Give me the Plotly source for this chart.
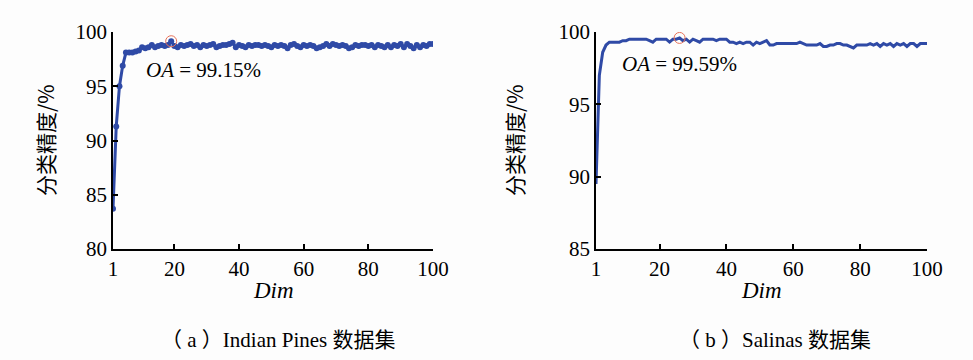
import plotly.graph_objects as go

dims = list(range(1, 101))

indian_pines_oa = [
    83.7, 91.3, 95.0, 96.9, 98.1, 98.1, 98.1, 98.2, 98.3, 98.6,
    98.5, 98.6, 98.8, 98.6, 98.7, 98.8, 98.7, 98.8, 99.15, 98.7,
    98.6, 98.8, 98.7, 98.8, 98.9, 98.7, 98.8, 98.6, 98.8, 98.7,
    98.8, 98.9, 98.6, 98.7, 98.8, 98.8, 98.9, 99.0, 98.6, 98.8,
    98.7, 98.6, 98.8, 98.7, 98.8, 98.8, 98.7, 98.8, 98.7, 98.6,
    98.8, 98.7, 98.8, 98.7, 98.5, 98.8, 98.9, 98.7, 98.6, 98.8,
    98.7, 98.8, 98.7, 98.5, 98.6, 98.7, 98.9, 98.7, 98.9, 98.8,
    98.7, 98.8, 98.7, 98.5, 98.6, 98.8, 98.7, 98.8, 98.8, 98.7,
    98.8, 98.6, 98.8, 98.7, 98.6, 98.8, 98.6, 98.8, 98.7, 98.9,
    98.6, 98.9, 98.7, 98.5, 98.8, 98.6, 98.8, 98.7, 98.9, 98.9,
]

salinas_oa = [
    89.5, 97.0, 98.6, 99.1, 99.3, 99.3, 99.3, 99.3, 99.4, 99.4,
    99.5, 99.5, 99.5, 99.5, 99.5, 99.5, 99.4, 99.3, 99.5, 99.5,
    99.5, 99.5, 99.3, 99.5, 99.5, 99.59, 99.4, 99.5, 99.3, 99.5,
    99.4, 99.3, 99.5, 99.5, 99.5, 99.5, 99.4, 99.5, 99.5, 99.5,
    99.3, 99.3, 99.2, 99.3, 99.2, 99.3, 99.3, 99.1, 99.3, 99.2,
    99.3, 99.4, 99.1, 99.1, 99.2, 99.2, 99.2, 99.2, 99.2, 99.2,
    99.2, 99.3, 99.2, 99.1, 99.1, 99.1, 99.1, 99.2, 99.0, 99.0,
    99.1, 99.1, 99.2, 99.2, 99.1, 99.1, 99.0, 98.9, 99.1, 99.1,
    99.1, 99.1, 99.2, 99.1, 99.2, 99.0, 99.2, 99.1, 99.2, 99.0,
    99.2, 99.1, 99.2, 99.0, 99.2, 99.2, 99.0, 99.2, 99.2, 99.2,
]

best_left = (19, 99.15)
best_right = (26, 99.59)

x_ticks = [1, 20, 40, 60, 80, 100]
y_ticks_left = [80, 85, 90, 95, 100]
y_ticks_right = [85, 90, 95, 100]

LINE = "#2f4aa6"
SERIF = "Liberation Serif"
CJK = "Noto Sans CJK SC"

fig = go.Figure()
fig.add_trace(go.Scatter(x=dims, y=indian_pines_oa, mode="lines+markers",
                         line=dict(color=LINE, width=3), marker=dict(color=LINE, size=6),
                         xaxis="x", yaxis="y", showlegend=False))
fig.add_trace(go.Scatter(x=[best_left[0]], y=[best_left[1]], mode="markers",
                         marker=dict(symbol="circle-open", color="#e8735a", size=11, line=dict(width=1)),
                         xaxis="x", yaxis="y", showlegend=False))
fig.add_trace(go.Scatter(x=dims, y=salinas_oa, mode="lines",
                         line=dict(color=LINE, width=3),
                         xaxis="x2", yaxis="y2", showlegend=False))
fig.add_trace(go.Scatter(x=[best_right[0]], y=[best_right[1]], mode="markers",
                         marker=dict(symbol="circle-open", color="#e8735a", size=11, line=dict(width=1)),
                         xaxis="x2", yaxis="y2", showlegend=False))

axis_common = dict(showline=True, linecolor="black", linewidth=1.5, ticks="inside",
                   ticklen=5, tickcolor="black", tickwidth=1.5, showgrid=False, zeroline=False,
                   tickfont=dict(family=SERIF, size=21, color="black"), mirror=False,
                   automargin=False)

ydom = [1 - 249/360, 1 - 32/360]
fig.update_layout(
    width=973, height=360, autosize=False,
    margin=dict(l=0, r=0, t=0, b=0, pad=0, autoexpand=False),
    paper_bgcolor="#fdfdfd", plot_bgcolor="#fdfdfd",
    xaxis=dict(domain=[113/973, 433/973], range=[1, 100], tickvals=x_ticks, anchor="y", **axis_common),
    yaxis=dict(domain=ydom, range=[80, 100], tickvals=y_ticks_left, anchor="x", **axis_common),
    xaxis2=dict(domain=[596/973, 927/973], range=[1, 100], tickvals=x_ticks, anchor="y2", **axis_common),
    yaxis2=dict(domain=ydom, range=[85, 100], tickvals=y_ticks_right, anchor="x2", **axis_common),
)

ann = []
def paper(px, py):
    return px / 973, 1 - py / 360

def add(px, py, text, font, **kw):
    x, y = paper(px, py)
    ann.append(dict(x=x, y=y, xref="paper", yref="paper", text=text, showarrow=False,
                    xanchor="center", yanchor="middle", font=font, **kw))

for cx in [273, 761]:
    add(cx, 290, "<i>Dim</i>", dict(family=SERIF, size=23, color="black"))
for cx in [45, 514]:
    add(cx, 140, "分类精度/%", dict(family=CJK, size=21, color="black"), textangle=-90)
add(203, 70, "<i>OA</i> = 99.15%", dict(family=SERIF, size=21, color="black"))
add(679, 64, "<i>OA</i> = 99.59%", dict(family=SERIF, size=21, color="black"))
add(278, 340, "（ a ）Indian Pines 数据集", dict(family=SERIF + ", " + CJK, size=21, color="black"))
add(775, 340, "（ b ）Salinas 数据集", dict(family=SERIF + ", " + CJK, size=21, color="black"))
fig.update_layout(annotations=ann)

fig.write_html("out.html", config={"displayModeBar": False},
               post_script="document.body.style.margin='0';")
